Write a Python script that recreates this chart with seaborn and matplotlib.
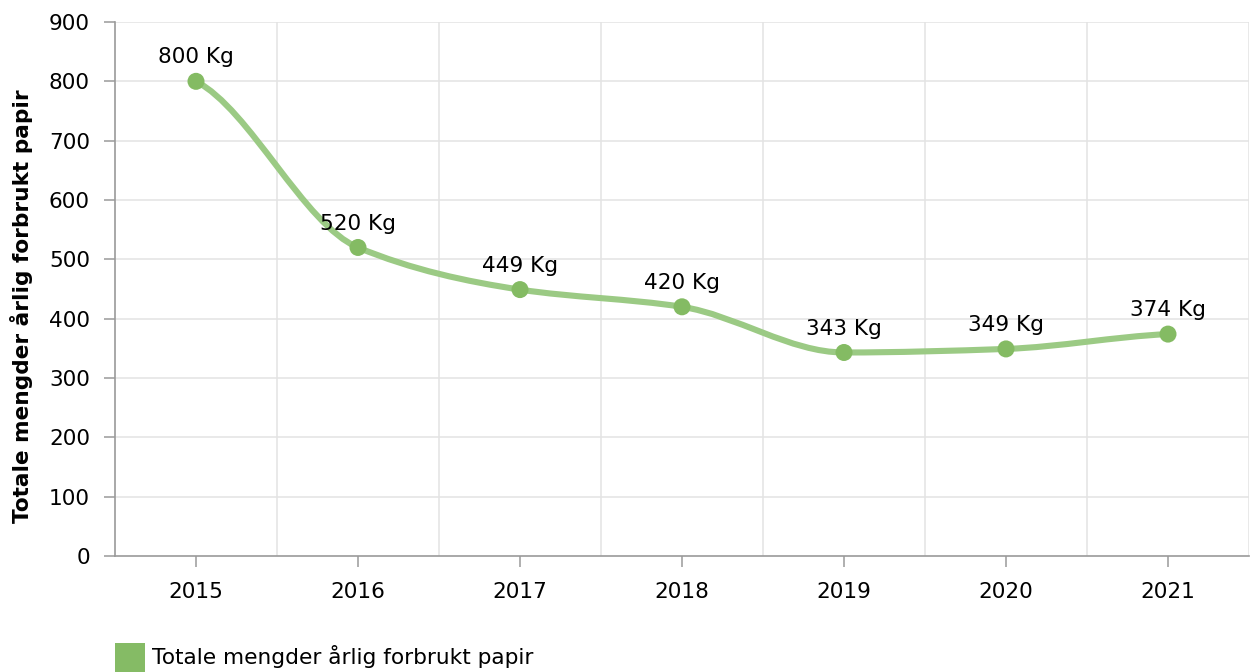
import numpy as np
import pandas as pd
import matplotlib
matplotlib.use("Agg")
import matplotlib.pyplot as plt
from matplotlib.path import Path
from matplotlib.patches import PathPatch, Rectangle
import seaborn as sns

# ----------------------------
# DATA
# ----------------------------
years = ["2015", "2016", "2017", "2018", "2019", "2020", "2021"]
paper_kg = [800, 520, 449, 420, 343, 349, 374]
series_name = "Totale mengder årlig forbrukt papir"
y_ticks = [0, 100, 200, 300, 400, 500, 600, 700, 800, 900]

LINE_COLOR = "#9bca84"
MARKER_COLOR = "#84bb63"
GRID_COLOR = "#e3e3e3"
AXIS_COLOR = "#9a9a9a"
FS = 15.6


def smooth_path(xs, ys):
    # monotone-ish cubic bezier through the points (flat at local extremes)
    n = len(xs)
    slopes = [(ys[i + 1] - ys[i]) / (xs[i + 1] - xs[i]) for i in range(n - 1)]
    tang = [0.0] * n
    for i in range(1, n - 1):
        a, b = slopes[i - 1], slopes[i]
        if a * b <= 0:
            tang[i] = 0.0
        else:
            tang[i] = 2 * a * b / (a + b)
    tang[0] = slopes[0] / 2
    tang[-1] = slopes[-1] / 2
    verts = [(xs[0], ys[0])]
    codes = [Path.MOVETO]
    for i in range(n - 1):
        h = (xs[i + 1] - xs[i]) / 3
        verts += [(xs[i] + h, ys[i] + tang[i] * h),
                  (xs[i + 1] - h, ys[i + 1] - tang[i + 1] * h),
                  (xs[i + 1], ys[i + 1])]
        codes += [Path.CURVE4] * 3
    return Path(verts, codes)


df = pd.DataFrame({"year": years, "kg": paper_kg})
df["pos"] = np.arange(len(years))

sns.set_style("white")
plt.rcParams["font.family"] = ["DejaVu Sans"]

fig = plt.figure(figsize=(12.54, 6.72), dpi=100)
ax = fig.add_axes([115 / 1254, 1 - 556 / 672, (1249 - 115) / 1254, (556 - 22) / 672])

# smooth line
path = smooth_path(df["pos"].tolist(), df["kg"].tolist())
ax.add_patch(PathPatch(path, facecolor="none", edgecolor=LINE_COLOR, lw=4.4,
                       capstyle="round", joinstyle="round", zorder=3))

sns.scatterplot(data=df, x="pos", y="kg", ax=ax, color=MARKER_COLOR, s=150,
                edgecolor="none", zorder=4, legend=False)

for _, row in df.iterrows():
    ax.annotate(f"{row['kg']} Kg", (row["pos"], row["kg"]), xytext=(0, 10),
                textcoords="offset points", ha="center", va="bottom",
                fontsize=FS, color="#000000", zorder=5)

ax.set_xlim(-0.5, len(years) - 0.5)
ax.set_ylim(0, 900)
ax.set_yticks(y_ticks)
ax.set_xticks(df["pos"])
ax.set_xticklabels(years)

ax.grid(False)
for yv in y_ticks[1:]:
    ax.axhline(yv, color=GRID_COLOR, lw=1.1, zorder=1)
for xv in np.arange(1, len(years) + 1) - 0.5:
    ax.axvline(xv, color=GRID_COLOR, lw=1.1, zorder=1)

for side in ["top", "right"]:
    ax.spines[side].set_visible(False)
for side in ["left", "bottom"]:
    ax.spines[side].set_color(AXIS_COLOR)
    ax.spines[side].set_linewidth(1.2)

ax.tick_params(axis="y", which="major", left=True, length=8, width=1.1,
               color=AXIS_COLOR, pad=10, labelsize=FS, labelcolor="#000000")
ax.tick_params(axis="x", which="major", bottom=True, length=8, width=1.1,
               color=AXIS_COLOR, pad=11, labelsize=FS, labelcolor="#000000",
               direction="out")

ax.set_xlabel("")
ax.set_ylabel(series_name, fontsize=FS, fontweight="bold", color="#000000")
ax.yaxis.set_label_coords(-82 / 1134, 0.5 - 17 / 534)

# legend at bottom left
fig.patches.append(Rectangle((115 / 1254, 0), 30 / 1254, 29 / 672,
                             transform=fig.transFigure, facecolor="#85bb65",
                             edgecolor="none"))
fig.text(152 / 1254, 1 - 657 / 672, series_name, fontsize=FS,
         ha="left", va="center", color="#000000")

fig.savefig("out.png", dpi=100)
